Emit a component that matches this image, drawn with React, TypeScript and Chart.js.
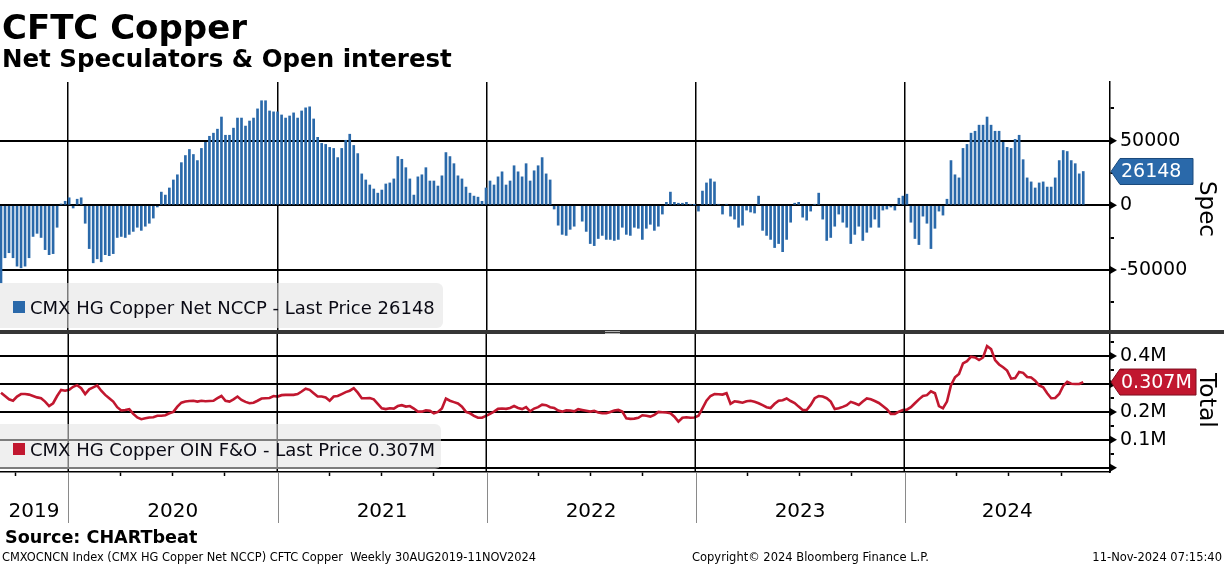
import React, { useEffect, useRef } from "react";
import { Chart, registerables } from "chart.js";
Chart.register(...registerables);

const FONT = '"DejaVu Sans", Verdana, sans-serif';
const FIRST_WEEK = Date.UTC(2019, 8, 6);
const DAY_MS = 86400000;
const X_MIN = -1.75;
const X_MAX = 1936.7;

// CMX HG Copper Net NCCP (contracts), weekly
const netSpec: (number | null)[] = [
  -60000, -40600, -36700, -40600, -47100, -48400, -47100, -40600, -24100, -21700,
  -24900, -34300, -38200, -37400, -17000, 1000, 3100, 5800, -2100, 4700,
  5800, -13900, -33500, -44500, -41400, -43700, -38200, -39000, -37400, -24900,
  -24100, -24900, -22500, -20200, -17000, -19400, -16200, -13900, -9900, -1300,
  10200, 7900, 13400, 19600, 23600, 33000, 38500, 43200, 39300, 34600,
  44000, 48700, 53400, 55800, 58900, 68300, 54200, 54200, 59700, 67500,
  67500, 61300, 65200, 67500, 74600, 80900, 80900, 73000, 72300, 72300,
  69900, 67500, 69100, 71500, 67500, 73000, 75400, 76200, 66800, 52600,
  47900, 47100, 44800, 44000, 36900, 44000, 50300, 55000, 46300, 40000,
  24300, 19600, 15700, 12600, 9400, 11800, 16500, 17300, 20400, 37700,
  35600, 29100, 20400, 7900, 22000, 23600, 29100, 18800, 18800, 14900,
  22800, 40800, 37700, 32200, 22800, 20400, 14100, 9400, 7100, 6300,
  3100, 13400, 18800, 15700, 22000, 25900, 15700, 18800, 30600, 25900,
  22000, 32200, 18800, 26700, 30600, 36900, 24300, 19600, -2900, -15400,
  -22500, -23300, -18600, -16200, null, -12300, -20200, -29600, -31200, -25700,
  -23300, -26400, -26400, -27200, -26400, -17000, -22500, -23300, -17000, -17800,
  -26400, -17800, -14700, -19400, -16200, -6800, 2300, 10200, 2300, 1600,
  1600, 2300, 800, 300, -4500, 11000, 17300, 20400, 18100, 800,
  -6800, 800, -8400, -10700, -17000, -15400, -3700, -5200, -6000, 7100,
  -19400, -23300, -26400, -32700, -29600, -35900, -26400, -13100, 1600, 2300,
  -9200, -11500, -4500, 800, 9400, -10700, -27200, -24900, -16200, -6800,
  -13100, -17000, -29600, -22500, -16200, -27200, -20900, -17000, -10700, -17000,
  -3700, -2900, -1300, -3700, 5500, 7100, 8600, -13100, -25700, -30400,
  -8400, -13900, -33500, -17800, -4500, -7600, 4700, 34600, 23600, 21200,
  44000, 47100, 55800, 57300, 62000, 62000, 68300, 62000, 57300, 57300,
  48700, 44800, 44000, 51000, 54200, 35300, 21200, 18100, 13400, 17300,
  18100, 14100, 14100, 21200, 34600, 42400, 41600, 34600, 32200, 24300,
  26148,
];

// CMX HG Copper OIN F&O (millions of contracts), weekly
const openInterest: number[] = [
  0.269, 0.257, 0.245, 0.240, 0.255, 0.264, 0.264, 0.262, 0.257, 0.252,
  0.249, 0.237, 0.221, 0.231, 0.257, 0.279, 0.276, 0.279, 0.290, 0.296,
  0.285, 0.264, 0.281, 0.288, 0.295, 0.276, 0.261, 0.249, 0.237, 0.217,
  0.205, 0.207, 0.210, 0.193, 0.180, 0.174, 0.177, 0.180, 0.181, 0.186,
  0.186, 0.188, 0.195, 0.200, 0.219, 0.233, 0.237, 0.239, 0.240, 0.237,
  0.240, 0.238, 0.239, 0.240, 0.249, 0.257, 0.240, 0.237, 0.245, 0.255,
  0.243, 0.236, 0.231, 0.233, 0.240, 0.248, 0.249, 0.250, 0.257, 0.255,
  0.260, 0.261, 0.261, 0.261, 0.264, 0.273, 0.283, 0.279, 0.267, 0.255,
  0.255, 0.252, 0.240, 0.255, 0.257, 0.264, 0.271, 0.276, 0.285, 0.269,
  0.249, 0.249, 0.250, 0.245, 0.229, 0.213, 0.210, 0.213, 0.212, 0.221,
  0.224, 0.219, 0.221, 0.212, 0.201, 0.201, 0.206, 0.204, 0.195, 0.200,
  0.212, 0.248, 0.240, 0.235, 0.230, 0.219, 0.200, 0.195, 0.186, 0.179,
  0.179, 0.186, 0.193, 0.201, 0.211, 0.212, 0.211, 0.214, 0.221, 0.214,
  0.210, 0.217, 0.202, 0.212, 0.217, 0.226, 0.224, 0.217, 0.214, 0.205,
  0.201, 0.206, 0.205, 0.202, 0.210, 0.207, 0.204, 0.201, 0.204, 0.198,
  0.195, 0.195, 0.200, 0.205, 0.207, 0.201, 0.177, 0.175, 0.176, 0.179,
  0.188, 0.186, 0.183, 0.189, 0.200, 0.199, 0.198, 0.195, 0.183, 0.165,
  0.179, 0.181, 0.179, 0.180, 0.186, 0.213, 0.240, 0.257, 0.264, 0.263,
  0.262, 0.267, 0.229, 0.238, 0.236, 0.233, 0.238, 0.240, 0.236, 0.231,
  0.224, 0.217, 0.214, 0.229, 0.240, 0.242, 0.248, 0.239, 0.232, 0.219,
  0.207, 0.207, 0.225, 0.249, 0.257, 0.255, 0.249, 0.237, 0.210, 0.213,
  0.218, 0.224, 0.236, 0.231, 0.225, 0.237, 0.248, 0.245, 0.239, 0.232,
  0.221, 0.210, 0.193, 0.193, 0.201, 0.207, 0.208, 0.217, 0.231, 0.245,
  0.257, 0.260, 0.274, 0.267, 0.221, 0.213, 0.237, 0.296, 0.324, 0.336,
  0.374, 0.382, 0.398, 0.395, 0.386, 0.395, 0.436, 0.425, 0.386, 0.370,
  0.360, 0.348, 0.319, 0.321, 0.343, 0.340, 0.325, 0.323, 0.312, 0.295,
  0.288, 0.267, 0.249, 0.250, 0.264, 0.293, 0.308, 0.301, 0.300, 0.300,
  0.307,
];

const specTicks = [-75000, -50000, -25000, 0, 25000, 50000, 75000];
const specLabelled = [-50000, 0, 50000];
const oiTicks = [0, 0.05, 0.1, 0.15, 0.2, 0.25, 0.3, 0.35, 0.4, 0.45];
const oiLabelled = [0.1, 0.2, 0.3, 0.4];
const yearLabels = ["2019", "2020", "2021", "2022", "2023", "2024"];
const yearBoundaries = [2020, 2021, 2022, 2023, 2024];
const quarterMonths = [3, 6, 9];

const SPEC_LAST = 26148;
const OI_LAST = 0.307;
const BLUE = "#2a69aa";
const RED = "#c1172f";

const dayOf = (y: number, m = 0) => (Date.UTC(y, m, 1) - FIRST_WEEK) / DAY_MS;
const boundaryDays = yearBoundaries.map((y) => dayOf(y));

const yearLabelDays = yearLabels.map((lab) => {
  const y = Number(lab);
  const a = Math.max(X_MIN, dayOf(y));
  const b = Math.min(X_MAX, dayOf(y + 1));
  return (a + b) / 2;
});
const quarterDays: number[] = [];
for (let y = 2019; y <= 2024; y++) {
  for (const m of quarterMonths) {
    const d = dayOf(y, m);
    if (d > X_MIN && d < X_MAX) quarterDays.push(d);
  }
}
const isNear = (list: number[], v: number) => list.some((d) => Math.abs(d - v) < 1e-6);
const labelFor = (v: number) => {
  const i = yearLabelDays.findIndex((d) => Math.abs(d - v) < 1e-6);
  return i >= 0 ? yearLabels[i] : "";
};

const specPoints = netSpec.map((v, i) => ({ x: i * 7, y: v }));
const oiPoints = openInterest.map((v, i) => ({ x: i * 7, y: v }));

function drawTag(ctx: CanvasRenderingContext2D, x: number, y: number, w: number, text: string, fill: string, stroke: string) {
  ctx.save();
  ctx.beginPath();
  ctx.moveTo(x, y);
  ctx.lineTo(x + 9, y - 13);
  ctx.lineTo(x + w, y - 13);
  ctx.lineTo(x + w, y + 13);
  ctx.lineTo(x + 9, y + 13);
  ctx.closePath();
  ctx.fillStyle = fill;
  ctx.fill();
  ctx.lineWidth = 1;
  ctx.strokeStyle = stroke;
  ctx.stroke();
  ctx.fillStyle = "#ffffff";
  ctx.font = `19px ${FONT}`;
  ctx.textBaseline = "middle";
  ctx.textAlign = "left";
  ctx.fillText(text, x + 10, y + 1);
  ctx.restore();
}

// panel geometry for the lower pane
const LOWER_TOP = 334;
const LOWER_BOTTOM = 472;

function drawYearLines(chart: any, y1: number, y2: number) {
  const { ctx } = chart;
  const xs = chart.scales.x;
  ctx.save();
  ctx.strokeStyle = "#000000";
  ctx.lineWidth = 1.5;
  for (const d of boundaryDays) {
    const px = Math.round(xs.getPixelForValue(d) + 0.75) - 0.75;
    ctx.beginPath();
    ctx.moveTo(px, y1);
    ctx.lineTo(px, y2);
    ctx.stroke();
  }
  ctx.restore();
}

const decorPlugin = {
  id: "decor",
  afterDraw(chart: any, _args: any, opts: any) {
    const { ctx, chartArea } = chart;
    const ys = chart.scales.y;
    if (opts.lowerLines) drawYearLines(chart, LOWER_TOP, LOWER_BOTTOM);
    ctx.save();
    ctx.fillStyle = "#000";
    for (const v of opts.majors) {
      const py = ys.getPixelForValue(v);
      ctx.beginPath();
      ctx.moveTo(chartArea.right, py - 4);
      ctx.lineTo(chartArea.right + 7, py);
      ctx.lineTo(chartArea.right, py + 4);
      ctx.closePath();
      ctx.fill();
    }
    if (opts.separators) {
      const xs = chart.scales.x;
      ctx.strokeStyle = "#8a8a8a";
      ctx.lineWidth = 1;
      for (const d of boundaryDays) {
        const px = Math.round(xs.getPixelForValue(d)) + 0.5;
        ctx.beginPath();
        ctx.moveTo(px, chartArea.bottom + 1);
        ctx.lineTo(px, 523);
        ctx.stroke();
      }
    }
    ctx.restore();
    drawTag(ctx, chartArea.right + 1, ys.getPixelForValue(opts.tagValue), opts.tagWidth, opts.tagText, opts.tagFill, opts.tagStroke);
  },
};

const noop = { display: false };

export default function App() {
  const topRef = useRef<HTMLCanvasElement>(null);
  const botRef = useRef<HTMLCanvasElement>(null);

  useEffect(() => {
    const bottom = new Chart(botRef.current as HTMLCanvasElement, {
      type: "line",
      data: {
        datasets: [
          {
            data: oiPoints as any,
            borderColor: RED,
            borderWidth: 2.6,
            pointRadius: 0,
            tension: 0,
            fill: false,
          },
        ],
      },
      plugins: [decorPlugin],
      options: {
        animation: false,
        responsive: false,
        devicePixelRatio: 1,
        layout: { padding: { left: 0, right: 0, top: LOWER_TOP, bottom: 0 } },
        plugins: {
          legend: noop,
          tooltip: { enabled: false },
          decor: {
            majors: [0, ...oiLabelled],
            tagValue: OI_LAST,
            tagText: `${OI_LAST}M`,
            tagWidth: 85,
            tagFill: RED,
            tagStroke: "#7d0d1e",
            separators: true,
            lowerLines: false,
          },
        } as any,
        scales: {
          x: {
            type: "linear",
            position: "bottom",
            min: X_MIN,
            max: X_MAX,
            offset: false,
            afterBuildTicks: (s: any) => {
              const vals = [...quarterDays, ...yearLabelDays].sort((a, b) => a - b);
              s.ticks = vals.map((v) => ({ value: v }));
            },
            afterFit: (s: any) => {
              s.height = 566 - LOWER_BOTTOM;
            },
            ticks: {
              callback: (v: any) => labelFor(Number(v)),
              font: { family: FONT, size: 20, lineHeight: 3.6 },
              color: "#000",
              autoSkip: false,
              maxRotation: 0,
              minRotation: 0,
              padding: 0,
            },
            grid: {
              offset: false,
              drawOnChartArea: false,
              tickColor: (c: any) => (isNear(quarterDays, c.tick?.value) ? "#000" : "rgba(0,0,0,0)"),
              color: "rgba(0,0,0,0)",
              tickLength: 4,
              tickWidth: 1.5,
            },
            border: { display: true, color: "#000", width: 1.5 },
          },
          y: {
            position: "right",
            min: -0.0154,
            max: 0.4792,
            afterBuildTicks: (s: any) => {
              s.ticks = oiTicks.map((v) => ({ value: v }));
            },
            afterFit: (s: any) => {
              s.width = 114;
            },
            ticks: {
              callback: (v: any) => (isNear(oiLabelled, Number(v)) ? `${Number(v).toFixed(1)}M` : ""),
              font: { family: FONT, size: 19 },
              color: "#000",
              padding: 6,
              autoSkip: false,
            },
            grid: {
              color: (c: any) => (isNear([0, ...oiLabelled], c.tick?.value) ? "#000" : "rgba(0,0,0,0)"),
              tickColor: "#000",
              lineWidth: 2,
              tickLength: 4,
            },
            border: { display: true, color: "#000", width: 1.5 },
          },
        },
      } as any,
    });

    const top = new Chart(topRef.current as HTMLCanvasElement, {
      type: "bar",
      data: {
        datasets: [
          {
            data: specPoints as any,
            backgroundColor: BLUE,
            borderWidth: 0,
            barThickness: 2,
          },
        ],
      },
      plugins: [decorPlugin],
      options: {
        animation: false,
        responsive: false,
        devicePixelRatio: 1,
        layout: { padding: { left: 0, right: 0, top: 82, bottom: 236 } },
        plugins: {
          legend: noop,
          tooltip: { enabled: false },
          decor: {
            majors: specLabelled,
            tagValue: SPEC_LAST,
            tagText: String(SPEC_LAST),
            tagWidth: 82,
            tagFill: BLUE,
            tagStroke: "#1b4a7c",
            separators: false,
            lowerLines: true,
          },
        } as any,
        scales: {
          x: {
            type: "linear",
            min: X_MIN,
            max: X_MAX,
            offset: false,
            afterBuildTicks: (s: any) => {
              s.ticks = boundaryDays.map((v) => ({ value: v }));
            },
            afterFit: (s: any) => {
              s.height = 0;
            },
            ticks: { display: false },
            grid: { offset: false, color: "#000", lineWidth: 1.5, drawTicks: false },
            border: { display: false },
          },
          y: {
            position: "right",
            min: -96500,
            max: 95400,
            afterBuildTicks: (s: any) => {
              s.ticks = specTicks.map((v) => ({ value: v }));
            },
            afterFit: (s: any) => {
              s.width = 114;
            },
            ticks: {
              callback: (v: any) => (specLabelled.includes(Number(v)) ? String(v) : ""),
              font: { family: FONT, size: 19 },
              color: "#000",
              padding: 6,
              autoSkip: false,
            },
            grid: {
              color: (c: any) => (specLabelled.includes(c.tick?.value) ? "#000" : "rgba(0,0,0,0)"),
              tickColor: "#000",
              lineWidth: 2,
              tickLength: 4,
            },
            border: { display: true, color: "#000", width: 1.5 },
          },
        },
      } as any,
    });

    return () => {
      top.destroy();
      bottom.destroy();
    };
  }, []);

  const canvasStyle: React.CSSProperties = { position: "absolute", left: 0, top: 0, width: 1224, height: 566 };
  const legendBox: React.CSSProperties = {
    position: "absolute",
    left: 0,
    background: "rgba(226,226,226,0.55)",
    borderRadius: "0 6px 6px 0",
  };
  const legendText: React.CSSProperties = {
    position: "absolute",
    left: 30,
    fontFamily: FONT,
    fontSize: 18,
    lineHeight: "18px",
    color: "#0a0a14",
    whiteSpace: "pre",
  };

  return (
    <div style={{ position: "absolute", left: 0, top: 0, width: 1224, height: 566, overflow: "hidden", background: "#fff" }}>
      <canvas ref={botRef} width={1224} height={566} style={canvasStyle} />
      <canvas ref={topRef} width={1224} height={566} style={canvasStyle} />

      <div style={{ position: "absolute", left: 2, top: 10, fontFamily: FONT, fontWeight: "bold", fontSize: 34, lineHeight: "34px", color: "#000", whiteSpace: "pre" }}>
        CFTC Copper
      </div>
      <div style={{ position: "absolute", left: 2, top: 46, fontFamily: FONT, fontWeight: "bold", fontSize: 24.5, lineHeight: "25px", color: "#000", whiteSpace: "pre" }}>
        Net Speculators &amp; Open interest
      </div>

      <div style={{ ...legendBox, top: 283, width: 443, height: 45 }} />
      <div style={{ position: "absolute", left: 13, top: 301, width: 12, height: 12, background: BLUE }} />
      <div style={{ ...legendText, top: 299 }}>CMX HG Copper Net NCCP - Last Price 26148</div>

      <div style={{ ...legendBox, top: 424, width: 441, height: 45 }} />
      <div style={{ position: "absolute", left: 13, top: 443, width: 12, height: 12, background: RED }} />
      <div style={{ ...legendText, top: 441 }}>CMX HG Copper OIN F&amp;O - Last Price 0.307M</div>

      <div style={{ position: "absolute", left: 0, top: 330, width: 1224, height: 4, background: "#363636" }} />
      <div style={{ position: "absolute", left: 605, top: 331, width: 15, height: 1, background: "#b0b0b0" }} />
      <div style={{ position: "absolute", left: 605, top: 333, width: 15, height: 1, background: "#b0b0b0" }} />

      <div style={{ position: "absolute", left: 1196, top: 181, writingMode: "vertical-rl", fontFamily: FONT, fontSize: 23, lineHeight: "24px", color: "#000" }}>
        Spec
      </div>
      <div style={{ position: "absolute", left: 1196, top: 373, writingMode: "vertical-rl", fontFamily: FONT, fontSize: 23.5, lineHeight: "24px", color: "#000" }}>
        Total
      </div>

      <div style={{ position: "absolute", left: 5, top: 528, fontFamily: FONT, fontWeight: "bold", fontSize: 17.6, lineHeight: "18px", color: "#000", whiteSpace: "pre" }}>
        Source: CHARTbeat
      </div>
      <div style={{ position: "absolute", left: 2, top: 551, fontFamily: FONT, fontSize: 11.4, lineHeight: "12px", color: "#000", whiteSpace: "pre" }}>
        CMXOCNCN Index (CMX HG Copper Net NCCP) CFTC Copper  Weekly 30AUG2019-11NOV2024
      </div>
      <div style={{ position: "absolute", left: 692, top: 551, fontFamily: FONT, fontSize: 11.5, lineHeight: "12px", color: "#000", whiteSpace: "pre" }}>
        Copyright© 2024 Bloomberg Finance L.P.
      </div>
      <div style={{ position: "absolute", right: 2, top: 551, fontFamily: FONT, fontSize: 11.5, lineHeight: "12px", color: "#000", whiteSpace: "pre" }}>
        11-Nov-2024 07:15:40
      </div>
    </div>
  );
}
